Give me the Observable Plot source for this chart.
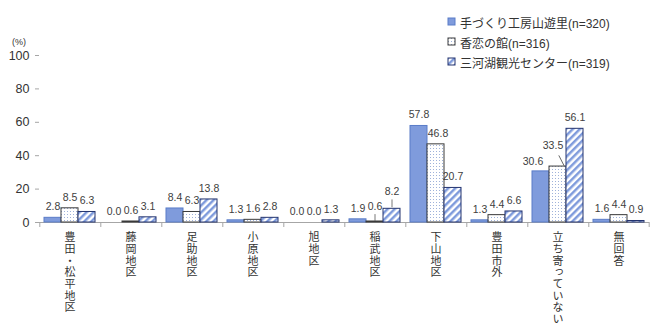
<!DOCTYPE html>
<html><head><meta charset="utf-8">
<script src="https://cdn.jsdelivr.net/npm/d3@7"></script>
<script src="https://cdn.jsdelivr.net/npm/@observablehq/plot@0.6"></script>
<style>
body{margin:0;background:#fff;font-family:"Liberation Sans","Noto Sans CJK JP",sans-serif;}
#wrap{position:relative;width:653px;height:329px;}
#legend{position:absolute;left:447px;top:12px;font-size:12px;color:#333;font-family:"Liberation Sans","Noto Sans CJK JP",sans-serif;}
.row{height:20px;display:flex;align-items:center;white-space:nowrap;}
#unit{position:absolute;left:12px;top:37px;font-size:9px;color:#333;}
.vlab text{writing-mode:vertical-rl;text-orientation:upright;letter-spacing:0.7px;}
</style></head><body>
<div id="wrap">
<svg width="0" height="0" style="position:absolute"><defs>
<pattern id="dots" width="3" height="3" patternUnits="userSpaceOnUse"><rect width="3" height="3" fill="#fff"/><rect x="1" y="1" width="1" height="1" fill="#9fb2da"/></pattern>
<pattern id="stripes" width="5" height="5" patternUnits="userSpaceOnUse" patternTransform="rotate(45)"><rect width="5" height="5" fill="#fff"/><rect width="2.5" height="5" fill="#7f9bdc"/></pattern>
</defs></svg>
<div id="unit">(%)</div>
<div id="legend"></div>
</div>
<script>
const categories = ["豊田・松平地区","藤岡地区","足助地区","小原地区","旭地区","稲武地区","下山地区","豊田市外","立ち寄っていない","無回答"];
const seriesNames = ["手づくり工房山遊里(n=320)","香恋の館(n=316)","三河湖観光センター(n=319)"];
const yamazato = [2.8,0.0,8.4,1.3,0.0,1.9,57.8,1.3,30.6,1.6];
const karen    = [8.5,0.6,6.3,1.6,0.0,0.6,46.8,4.4,33.5,4.4];
const mikawako = [6.3,3.1,13.8,2.8,1.3,8.2,20.7,6.6,56.1,0.9];
const yTicks = [0,20,40,60,80,100];

const seriesValues = [yamazato, karen, mikawako];
const data = categories.flatMap((c,i)=>seriesNames.map((s,k)=>({cat:c, s, k, v:seriesValues[k][i]})));

const fills = ["#7f9bdc","url(#dots)","url(#stripes)"];
const strokes = ["#5a7cc8","#3a3a3a","#23336e"];

const W=653,H=329,ML=39,MR=4,MT=55,MB=107;
const PO=0.263;
const step=(W-ML-MR)/categories.length;
const bw=step/(3+2*PO);
const sepDx=-(bw/2+PO*bw);

const isSpecial = d => (d.cat==="稲武地区" && d.k>0) || (d.cat==="立ち寄っていない" && d.k<2) || (d.cat==="下山地区" && d.k===1);
const pick = (c,k) => d => d.cat===c && d.k===k;
const leader = {draw(ctx,l){ctx.moveTo(0,0);ctx.lineTo(0,-l);}};
const fmt = d => d.v.toFixed(1);
const lab = {fx:"cat", x:"s", y:"v", text:fmt, fontSize:10.5, fill:"#404040"};

const plot = Plot.plot({
  width:W, height:H, marginLeft:ML, marginRight:MR, marginTop:MT, marginBottom:MB,
  style:{fontFamily:'"Liberation Sans","Noto Sans CJK JP",sans-serif', fontSize:"12px", color:"#333", background:"#fff"},
  fx:{domain:categories, padding:0, axis:null},
  x:{domain:seriesNames, paddingInner:0, paddingOuter:PO, axis:null},
  y:{domain:[0,100], axis:null},
  marks:[
    Plot.axisY({ticks:yTicks, tickSize:4, tickPadding:6, label:null, line:true, stroke:"#a6a6a6", fill:"#333", fontSize:12.5}),
    Plot.ruleX(categories,{fx:d=>d, x:()=>seriesNames[0], y1:0, y2:-3, dx:sepDx, stroke:"#a6a6a6"}),
    Plot.ruleX(categories.slice(-1),{fx:d=>d, x:()=>seriesNames[2], y1:0, y2:-3, dx:-sepDx, stroke:"#a6a6a6"}),
    Plot.ruleY([0],{stroke:"#a6a6a6"}),
    ...seriesNames.map((s,k)=>Plot.barY(data.filter(d=>d.k===k),{fx:"cat", x:"s", y:"v", fill:fills[k], stroke:strokes[k], strokeWidth:1})),
    Plot.text(data.filter(d=>!isSpecial(d)), {...lab, dy:-11}),
    Plot.text(data.filter(pick("下山地区",1)), {...lab, dy:-11, dx:2}),
    Plot.text(data.filter(pick("稲武地区",1)), {...lab, dy:-15}),
    Plot.text(data.filter(pick("稲武地区",2)), {...lab, dy:-17}),
    Plot.text(data.filter(pick("立ち寄っていない",0)), {...lab, dy:-10, dx:-8}),
    Plot.text(data.filter(pick("立ち寄っていない",1)), {...lab, dy:-21, dx:-5}),
    Plot.vector(data.filter(pick("稲武地区",1)), {fx:"cat", x:"s", y:"v", length:6, anchor:"start", shape:leader, stroke:"#555", strokeWidth:0.8, dy:-1}),
    Plot.vector(data.filter(pick("稲武地区",2)), {fx:"cat", x:"s", y:"v", length:7, anchor:"start", shape:leader, stroke:"#555", strokeWidth:0.8, dy:-2}),
    Plot.vector(data.filter(pick("立ち寄っていない",1)), {fx:"cat", x:"s", y:"v", length:11, rotate:-27, anchor:"start", shape:leader, stroke:"#555", strokeWidth:0.8, dx:6, dy:-1}),
    Plot.text(categories, {fx:d=>d, frameAnchor:"bottom", text:d=>d, textAnchor:"start", dy:9, fontSize:11, fill:"#333", fontFamily:'"Noto Sans CJK JP",sans-serif', className:"vlab"})
  ]
});
const wrap = document.getElementById("wrap");
wrap.insertBefore(plot, wrap.firstChild);

const legend = document.getElementById("legend");
seriesNames.forEach((s,k)=>{
  const row = document.createElement("div"); row.className="row";
  const sw = document.createElementNS("http://www.w3.org/2000/svg","svg");
  sw.setAttribute("width","10"); sw.setAttribute("height","10"); sw.style.marginRight="3px";
  sw.innerHTML = `<rect x="1" y="1" width="7" height="7" fill="${fills[k]}" stroke="${strokes[k]}" stroke-width="1"/>`;
  row.appendChild(sw);
  const t = document.createElement("span"); t.textContent = s; row.appendChild(t);
  legend.appendChild(row);
});
</script>
</body></html>
